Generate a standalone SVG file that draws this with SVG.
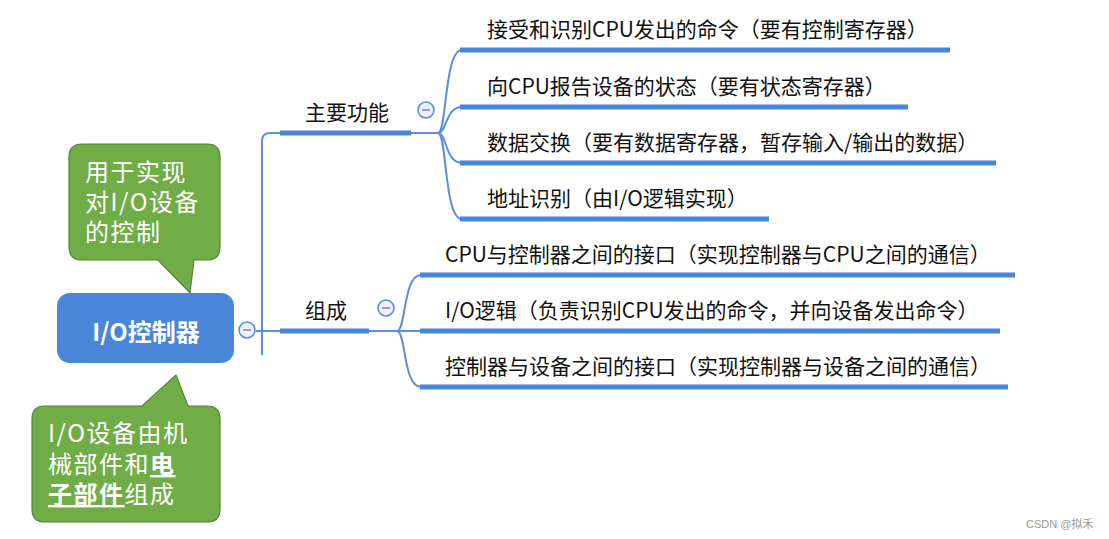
<svg xmlns="http://www.w3.org/2000/svg" width="1109" height="539" viewBox="0 0 1109 539">
<style>
.t{font-family:"Noto Sans CJK SC","Liberation Sans",sans-serif;font-size:21px;fill:#111}
.c{font-family:"Noto Sans CJK SC","Liberation Sans",sans-serif;font-size:24px;fill:#fff;letter-spacing:1.5px}
.bar{stroke:#4a86d8;stroke-width:5;fill:none}
.ln{stroke:#5b8fdc;stroke-width:2;fill:none}
.tog{fill:#eef1fa;stroke:#5b8fdc;stroke-width:1.6}
.dash{stroke:#8a86b8;stroke-width:1.6}
.call{fill:#70ad47;stroke:#548235;stroke-width:1.2}
</style>
<rect width="1109" height="539" fill="#fff"/>
<g id="connectors">
<path class="ln" d="M256,331 H280"/>
<path class="ln" d="M262,355 V141 Q262,133 270,133 H280"/>
<path class="ln" d="M411,133 H438"/>
<path class="ln" d="M438,133 C447,133 444,50 462,50"/>
<path class="ln" d="M438,133 C447,133 445,107 462,107"/>
<path class="ln" d="M438,133 C447,133 445,163 462,163"/>
<path class="ln" d="M438,133 C447,133 444,219 462,219"/>
<path class="ln" d="M369,331 H397"/>
<path class="ln" d="M397,331 C406,331 403,275 421,275"/>
<path class="ln" d="M397,331 H421"/>
<path class="ln" d="M397,331 C406,331 403,387 421,387"/>
</g>
<g id="root">
<rect x="57" y="293" width="177" height="70" rx="13" fill="#4a86d8"/>
<text x="146" y="341" text-anchor="middle" font-family="Noto Sans CJK SC, Liberation Sans, sans-serif" font-size="24" font-weight="bold" fill="#fff">I/O控制器</text>
<circle class="tog" cx="247" cy="330" r="8"/><path class="dash" d="M243,330 H251"/>
</g>
<g id="n-func">
<path class="bar" d="M280,133 H411"/>
<text class="t" x="305" y="120">主要功能</text>
<circle class="tog" cx="426" cy="110" r="8"/><path class="dash" d="M422,110 H430"/>
</g>
<g id="n-comp">
<path class="bar" d="M280,331 H369"/>
<text class="t" x="305" y="318">组成</text>
<circle class="tog" cx="386" cy="308" r="8"/><path class="dash" d="M382,308 H390"/>
</g>
<g id="f1"><path class="bar" d="M460,50 H950"/><text class="t" x="487" y="37">接受和识别CPU发出的命令（要有控制寄存器）</text></g>
<g id="f2"><path class="bar" d="M460,107 H908"/><text class="t" x="487" y="94">向CPU报告设备的状态（要有状态寄存器）</text></g>
<g id="f3"><path class="bar" d="M460,163 H996"/><text class="t" x="487" y="150">数据交换（要有数据寄存器，暂存输入/输出的数据）</text></g>
<g id="f4"><path class="bar" d="M460,219 H769"/><text class="t" x="487" y="206">地址识别（由I/O逻辑实现）</text></g>
<g id="c1"><path class="bar" d="M420,275 H1015"/><text class="t" x="445" y="262">CPU与控制器之间的接口（实现控制器与CPU之间的通信）</text></g>
<g id="c2"><path class="bar" d="M420,331 H1000"/><text class="t" x="445" y="318">I/O逻辑（负责识别CPU发出的命令，并向设备发出命令）</text></g>
<g id="c3"><path class="bar" d="M420,387 H1008"/><text class="t" x="445" y="374">控制器与设备之间的接口（实现控制器与设备之间的通信）</text></g>
<g id="note1">
<path class="call" d="M82,144 H207 Q220,144 220,157 V247 Q220,260 207,260 H194 L190,293 L158,260 H82 Q69,260 69,247 V157 Q69,144 82,144 Z"/>
<text class="c" x="85" y="181">用于实现</text>
<text class="c" x="85" y="211">对I/O设备</text>
<text class="c" x="85" y="241">的控制</text>
</g>
<g id="note2">
<path class="call" d="M45,406 H142 L176,375 L188,406 H207 Q220,406 220,419 V509 Q220,522 207,522 H45 Q32,522 32,509 V419 Q32,406 45,406 Z"/>
<text class="c" x="48" y="442">I/O设备由机</text>
<text class="c" x="48" y="473">械部件和<tspan font-weight="bold" text-decoration="underline">电</tspan></text>
<text class="c" x="48" y="503"><tspan font-weight="bold" text-decoration="underline">子部件</tspan>组成</text>
</g>
<text x="1026" y="528" font-family="Liberation Sans, Noto Sans CJK SC, sans-serif" font-size="11" fill="#999">CSDN @拟禾</text>
</svg>
